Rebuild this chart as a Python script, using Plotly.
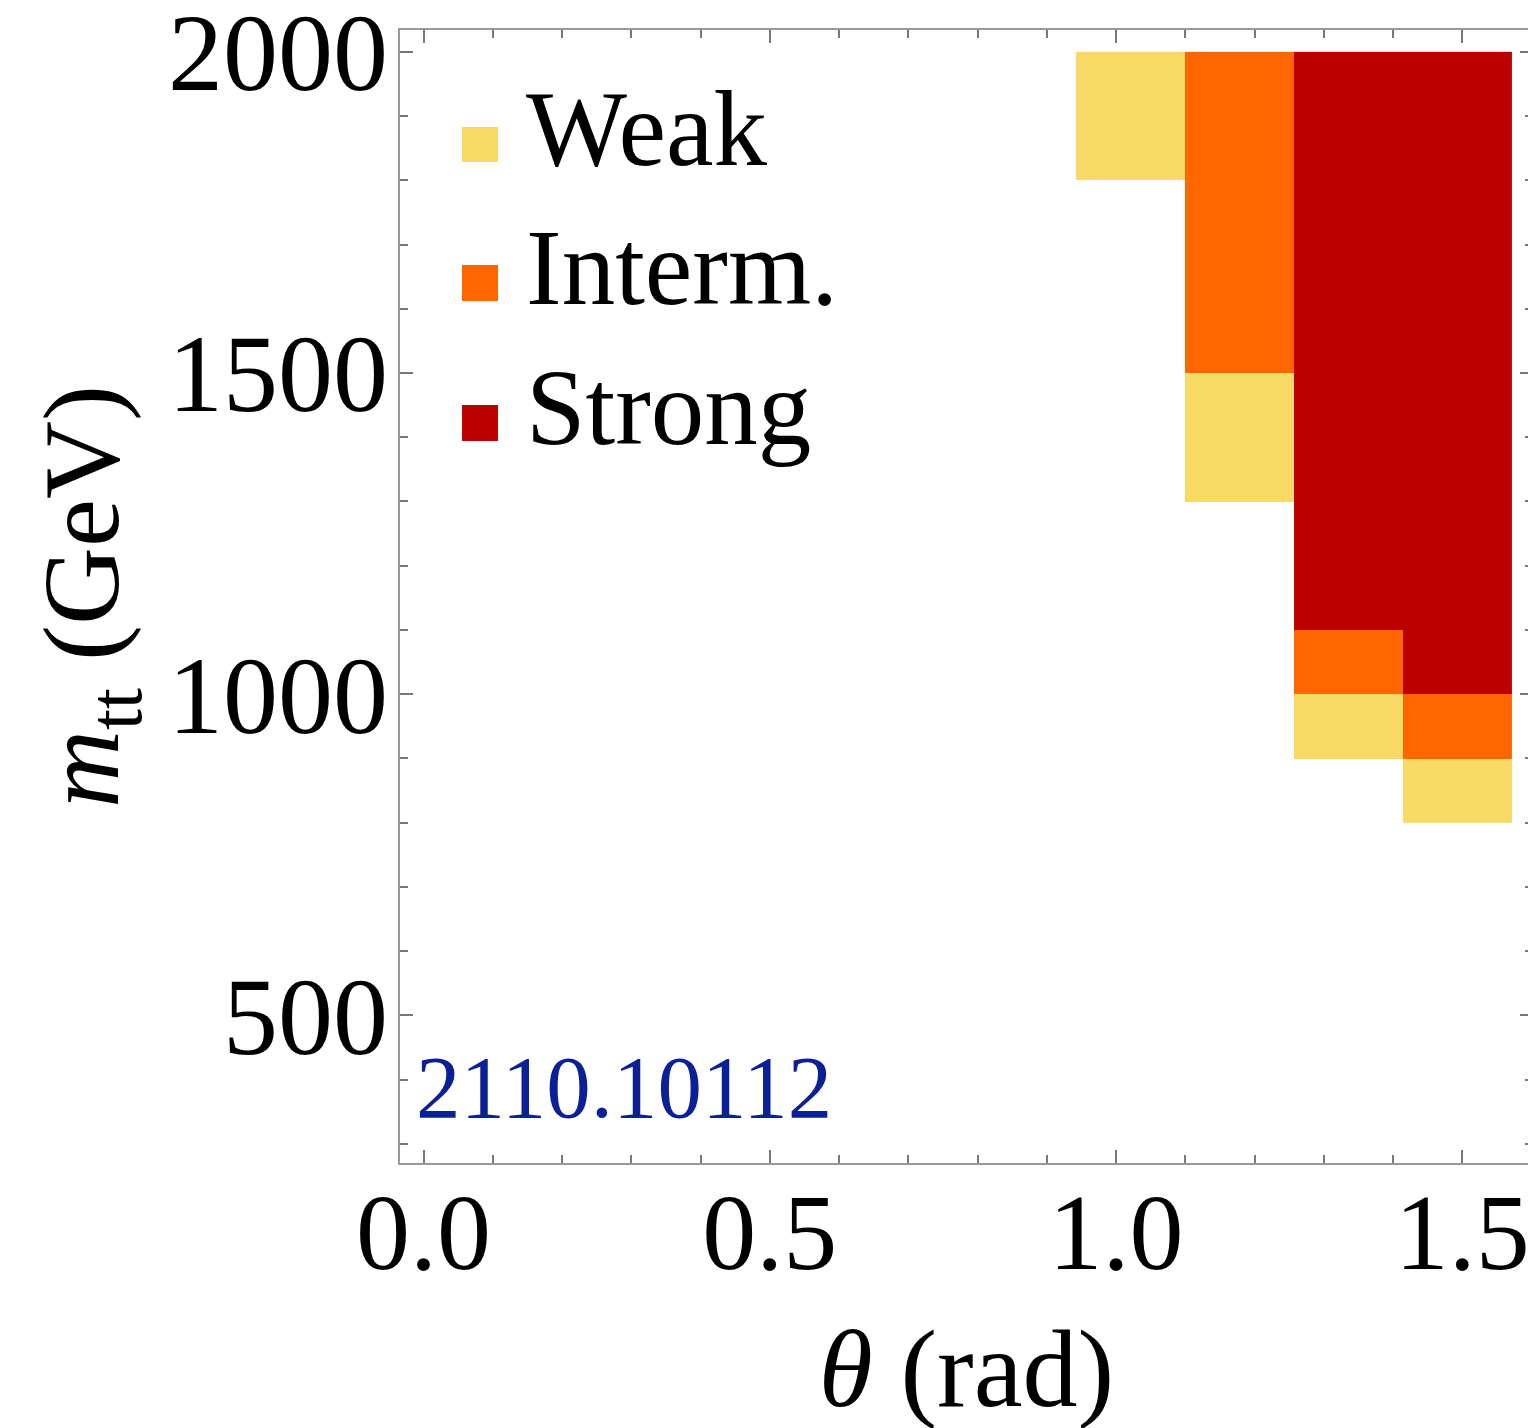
import plotly.graph_objects as go

# ---- data ----
theta_edges = [0.942, 1.100, 1.257, 1.414, 1.571]          # rad, bin edges
mass_edges = [800, 900, 1000, 1100, 1200, 1300, 1400, 1500, 1600,
              1700, 1800, 1900, 2000]                      # GeV, bin edges
# lower mass boundary of each level in each theta bin (None = absent)
weak_min = [1800, 1300, 900, 800]
interm_min = [None, 1500, 1000, 900]
strong_min = [None, None, 1100, 1000]
levels = ["Weak", "Interm.", "Strong"]
level_colors = ["#F9D966", "#FF6600", "#BA0000"]
arxiv_id = "2110.10112"

# build grid
z = []
for j in range(len(mass_edges) - 1):
    m = mass_edges[j]
    row = []
    for i in range(len(theta_edges) - 1):
        v = None
        if weak_min[i] is not None and m >= weak_min[i]:
            v = 1
        if interm_min[i] is not None and m >= interm_min[i]:
            v = 2
        if strong_min[i] is not None and m >= strong_min[i]:
            v = 3
        row.append(v)
    z.append(row)

cs = [[0, level_colors[0]], [1/3, level_colors[0]],
      [1/3, level_colors[1]], [2/3, level_colors[1]],
      [2/3, level_colors[2]], [1, level_colors[2]]]

fig = go.Figure()
fig.add_trace(go.Heatmap(x=theta_edges, y=mass_edges, z=z, colorscale=cs,
                         zmin=0.5, zmax=3.5, showscale=False, hoverongaps=False))

FONT = "Liberation Serif"
W, H = 1536, 1428
OFF = 8  # page body margin offset
L, T = 400 - OFF, 30 - OFF
R = W - (1533 - OFF)
B = H - (1163 - OFF)
pw, ph = W - L - R, H - T - B

def px(xs):
    return (xs - OFF - L) / pw

def py(ys):
    return (H - B - (ys - OFF)) / ph

axis_common = dict(showgrid=False, zeroline=False, showline=True,
                   linecolor="#999999", linewidth=2, mirror="allticks",
                   ticks="inside", ticklen=13, tickwidth=1.5, tickcolor="#777777",
                   automargin=False, ticklabeloverflow="allow")

fig.update_xaxes(range=[-0.034, 1.602], tick0=0, dtick=0.5, tickformat=".1f",
                 minor=dict(dtick=0.1, tick0=0, ticks="inside", ticklen=8,
                            tickwidth=1.5, tickcolor="#777777"),
                 tickfont=dict(family=FONT, size=108, color="black"),
                 ticklabelstandoff=-26,
                 title=dict(text="<i>θ</i> (rad)", font=dict(family=FONT, size=110, color="black"),
                            standoff=38),
                 **axis_common)
fig.update_yaxes(range=[270, 2034], tick0=0, dtick=500,
                 minor=dict(dtick=100, tick0=0, ticks="inside", ticklen=8,
                            tickwidth=1.5, tickcolor="#777777"),
                 tickfont=dict(family=FONT, size=110, color="black"),
                 ticklabelstandoff=-12,
                 title=dict(text="<i>m</i><sub>tt</sub> (GeV)", font=dict(family=FONT, size=108, color="black"),
                            standoff=13),
                 **axis_common)

# legend (manual, Mathematica-style)
sq = [(127, 162), (265, 301), (405, 441)]
baselines = [158, 297, 437]
for k in range(3):
    fig.add_shape(type="rect", xref="paper", yref="paper",
                  x0=px(462), x1=px(498), y0=py(sq[k][1]), y1=py(sq[k][0]),
                  fillcolor=level_colors[k], line=dict(width=0))
    fig.add_annotation(xref="paper", yref="paper", x=px(524), y=py(baselines[k] - 29),
                       text=levels[k], showarrow=False, xanchor="left", yanchor="middle",
                       font=dict(family=FONT, size=107, color="black"))

fig.add_annotation(xref="paper", yref="paper", x=px(414), y=py(1117 - 30),
                   text=arxiv_id, showarrow=False, xanchor="left", yanchor="middle",
                   font=dict(family=FONT, size=89, color="#0B1F96"))

fig.update_layout(width=W, height=H, margin=dict(l=L, r=R, t=T, b=B, pad=0),
                  plot_bgcolor="white", paper_bgcolor="white", showlegend=False)

fig.write_html("out.html")
